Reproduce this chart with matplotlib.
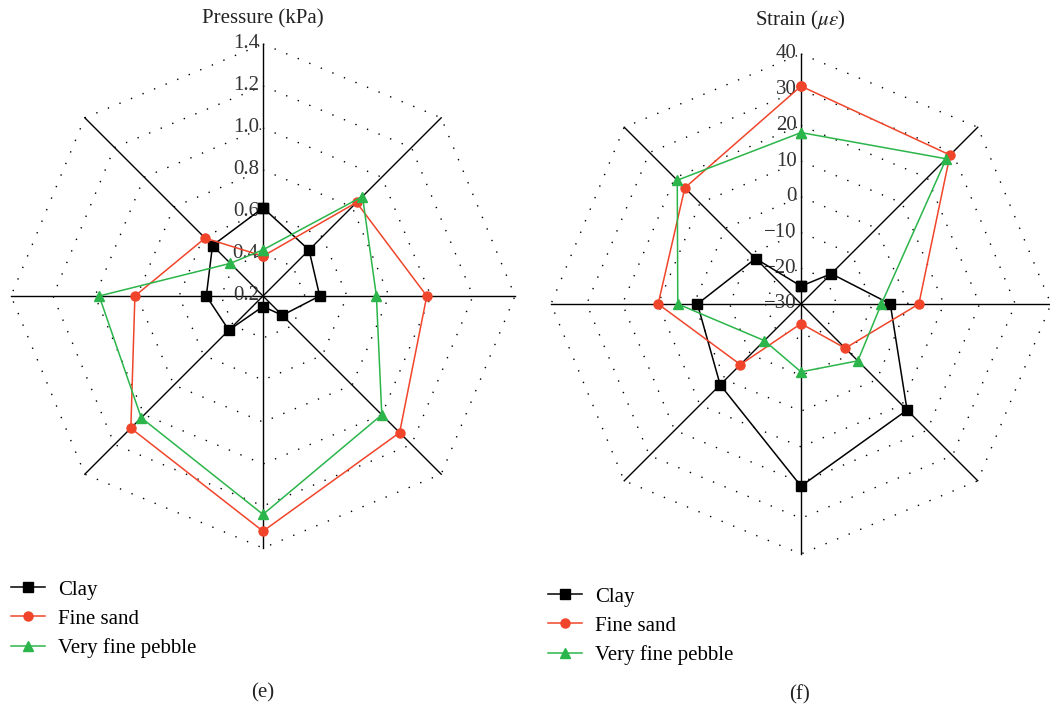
import numpy as np
import matplotlib
matplotlib.use("Agg")
import matplotlib.pyplot as plt
import matplotlib.transforms as mtransforms

plt.rcParams["font.family"] = ["Liberation Serif", "DejaVu Serif"]
plt.rcParams["mathtext.fontset"] = "stix"

# spokes go clockwise from the top
n_spokes = 8

pressure_ticks = [0.2, 0.4, 0.6, 0.8, 1.0, 1.2, 1.4]
pressure_clay = [0.62, 0.51, 0.47, 0.33, 0.25, 0.43, 0.47, 0.54]
pressure_sand = [0.39, 0.83, 0.98, 1.12, 1.32, 1.09, 0.81, 0.59]
pressure_pebble = [0.42, 0.87, 0.74, 1.00, 1.24, 1.02, 0.98, 0.42]

strain_ticks = [-30, -20, -10, 0, 10, 20, 30, 40]
strain_clay = [-25, -18, -5, 12, 21, 2, -1, -12]
strain_sand = [31, 29, 3, -12.5, -24.5, -6, 10, 16]
strain_pebble = [18, 27.5, -7.5, -7.5, -11, -15.5, 4.5, 19]

series_names = ["Clay", "Fine sand", "Very fine pebble"]
series_colors = ["black", "#f0452a", "#2bb54a"]
series_markers = ["s", "o", "^"]
series_msize = [7, 6.5, 7]

W, H = 1050, 707


def fx(px):
    return px / W


def fy(py):
    return 1 - py / H


def tick_text(t):
    s = f"{t:.1f}" if isinstance(t, float) else str(t)
    return s.replace("-", "\u2212")


def radar(ax, ticks, series, title, title_xy, caption, caption_xy, legend_xy):
    fig = ax.figure
    angles = np.arange(n_spokes) * 2 * np.pi / n_spokes
    rmin, rmax = ticks[0], ticks[-1]
    ax.set_theta_zero_location("N")
    ax.set_theta_direction(-1)
    ax.set_ylim(rmin, rmax)
    ax.grid(False)
    ax.set_xticks([])
    ax.set_yticks([])
    ax.spines["polar"].set_visible(False)
    ax.patch.set_visible(False)

    ring_angles = np.append(angles, angles[0])
    for t in ticks[1:]:
        ax.plot(ring_angles, [t] * len(ring_angles), color="black",
                lw=1.0, linestyle=(0, (1, 8)), clip_on=False)
    for a in angles:
        ax.plot([a, a], [rmin, rmax], color="black", lw=1.0, clip_on=False)

    offset = mtransforms.offset_copy(ax.transData, fig=fig, x=-3, y=0, units="points")
    for t in ticks:
        ax.text(0, t, tick_text(t), transform=offset, ha="right", va="center",
                fontsize=15, color="#333333")

    for vals, name, c, m, ms in zip(series, series_names, series_colors,
                                    series_markers, series_msize):
        ax.plot(np.append(angles, angles[0]), vals + vals[:1], color=c, lw=1.1,
                marker=m, markersize=ms, label=name, clip_on=False, zorder=5)

    fig.text(fx(title_xy[0]), fy(title_xy[1]), title, ha="center", va="center",
             fontsize=15, color="#222222")
    ax.legend(loc="upper left", bbox_to_anchor=(fx(legend_xy[0]), fy(legend_xy[1])),
              bbox_transform=fig.transFigure, frameon=False, fontsize=15,
              handlelength=1.65, handletextpad=0.6, labelspacing=0.45,
              borderpad=0, borderaxespad=0)
    fig.text(fx(caption_xy[0]), fy(caption_xy[1]), caption, ha="center",
             va="center", fontsize=15, color="#222222")


fig = plt.figure(figsize=(W / 100, H / 100), dpi=100)
ax1 = fig.add_axes([fx(11), fy(548), 504 / W, 504 / H], projection="polar")
ax2 = fig.add_axes([fx(551), fy(554), 500 / W, 500 / H], projection="polar")

radar(ax1, pressure_ticks, [pressure_clay, pressure_sand, pressure_pebble],
      "Pressure (kPa)", (263, 19), "(e)", (263, 693), (11, 580))
radar(ax2, strain_ticks, [strain_clay, strain_sand, strain_pebble],
      r"Strain ($\mu\varepsilon$)", (800, 20), "(f)", (800, 695), (548, 587))

fig.savefig("out.png", dpi=100)
